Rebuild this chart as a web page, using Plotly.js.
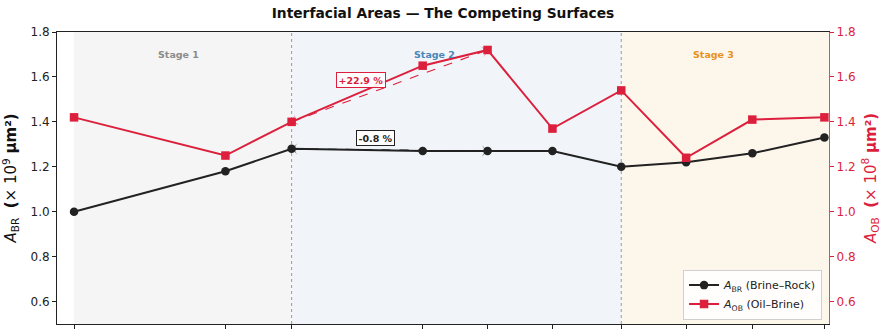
<!DOCTYPE html>
<html>
<head>
<meta charset="utf-8">
<script src="https://cdn.plot.ly/plotly-3.0.1.min.js"></script>
<style>
  html, body { margin: 0; padding: 0; background: #ffffff; }
  #chart { width: 883px; height: 331px; }
</style>
</head>
<body>
<div id="chart"></div>
<script>
// Sampling steps along the flooding sequence
const stepX = [0, 2.31, 3.32, 5.32, 6.31, 7.30, 8.35, 9.34, 10.35, 11.45];
// Brine–rock interfacial area (×10^9 µm²)
const areaBR = [1.00, 1.18, 1.28, 1.27, 1.27, 1.27, 1.20, 1.22, 1.26, 1.33];
// Oil–brine interfacial area (×10^8 µm²)
const areaOB = [1.42, 1.25, 1.40, 1.65, 1.72, 1.37, 1.54, 1.24, 1.41, 1.42];

// Stage boundaries (indices into stepX) and labels
const stageNames = ['Stage 1', 'Stage 2', 'Stage 3'];
const stageStart = [0, 2, 6];
const stageColors = ['#f5f5f5', '#f1f5f9', '#fdf6ea'];
const stageTextColors = ['#8c8c8c', '#4a86b8', '#e8921e'];

// Change between sample 2 and sample 4 for each series
const cmpFrom = 2, cmpTo = 4;

const RED = '#dc1f3c';
const DARK = '#222222';
const FONT = 'DejaVu Sans, sans-serif';

const xMin = -0.26, xMax = 11.52;

const traces = [
  {
    x: stepX, y: areaBR, type: 'scatter', mode: 'lines+markers',
    name: '<i>A</i><sub>BR</sub> (Brine–Rock)',
    line: {color: DARK, width: 2},
    marker: {color: DARK, size: 8.5, symbol: 'circle'},
    yaxis: 'y'
  },
  {
    x: stepX, y: areaOB, type: 'scatter', mode: 'lines+markers',
    name: '<i>A</i><sub>OB</sub> (Oil–Brine)',
    line: {color: RED, width: 2},
    marker: {color: RED, size: 8.5, symbol: 'square'},
    yaxis: 'y2'
  }
];

const shapes = [];
const annotations = [];

// Stage shading and dotted separators
stageStart.forEach((s, i) => {
  const x0 = stepX[s];
  const x1 = i + 1 < stageStart.length ? stepX[stageStart[i + 1]] : xMax;
  shapes.push({
    type: 'rect', xref: 'x', yref: 'paper', x0: x0, x1: x1, y0: 0, y1: 1,
    fillcolor: stageColors[i], line: {width: 0}, layer: 'below'
  });
  if (i > 0) {
    shapes.push({
      type: 'line', xref: 'x', yref: 'paper', x0: x0, x1: x0, y0: 0, y1: 1,
      line: {color: '#9a9a9a', width: 1, dash: 'dot'}, layer: 'below'
    });
  }
});

const stageLabelX = [1.60, 5.50, 9.75];
stageNames.forEach((name, i) => {
  annotations.push({
    text: '<b>' + name + '</b>', xref: 'x', yref: 'paper',
    x: stageLabelX[i], y: 0.95, showarrow: false,
    font: {family: FONT, size: 9.5, color: stageTextColors[i]}
  });
});

// Double-headed dashed arrow with a percentage badge
function changeArrow(series, yaxisId, color, label, xshift, yshift) {
  const xa = stepX[cmpFrom], xb = stepX[cmpTo];
  const ya = series[cmpFrom], yb = series[cmpTo];
  traces.push({
    x: [xa, xb], y: [ya, yb], type: 'scatter', mode: 'lines',
    line: {color: color, width: 1.1, dash: 'dash'},
    yaxis: yaxisId, showlegend: false, hoverinfo: 'skip'
  });
  // arrowheads at both ends, each oriented from the opposite end
  [[xa, xb, ya, yb], [xb, xa, yb, ya]].forEach(([x0, x1, y0, y1]) => {
    traces.push({
      x: [x0, x1], y: [y0, y1], type: 'scatter', mode: 'markers',
      marker: {
        symbol: 'arrow-wide', size: [0, 8], color: color,
        angleref: 'previous', line: {width: 0}
      },
      yaxis: yaxisId, showlegend: false, hoverinfo: 'skip'
    });
  });
  annotations.push({
    x: (xa + xb) / 2, y: (ya + yb) / 2, xref: 'x', yref: yaxisId,
    xshift: xshift, yshift: yshift, showarrow: false,
    text: '<b>' + label + '</b>',
    font: {family: FONT, size: 9.5, color: color},
    bgcolor: 'rgba(255,255,255,0.9)', bordercolor: color,
    borderwidth: 1, borderpad: 1.5
  });
}

const pct = (s) => (s[cmpTo] - s[cmpFrom]) / s[cmpFrom] * 100;
const fmt = (v) => (v > 0 ? '+' : '') + v.toFixed(1) + ' %';
changeArrow(areaOB, 'y2', RED, fmt(pct(areaOB)), -29, 6);
changeArrow(areaBR, 'y', DARK, fmt(pct(areaBR)), -14, 12);

const layout = {
  width: 883, height: 331,
  margin: {l: 57, r: 54, t: 32, b: 7, pad: 0},
  paper_bgcolor: '#ffffff', plot_bgcolor: '#ffffff',
  font: {family: FONT, size: 12, color: DARK},
  title: {
    text: '<b>Interfacial Areas — The Competing Surfaces</b>',
    x: 0.5, xref: 'paper', y: 1 - 13 / 331, yref: 'container', yanchor: 'middle',
    font: {family: FONT, size: 13.8, color: '#111111'}
  },
  showlegend: true,
  legend: {
    x: 0.991, y: 0.015, xanchor: 'right', yanchor: 'bottom',
    bgcolor: 'rgba(255,255,255,0.85)', bordercolor: '#d0d0d0', borderwidth: 1,
    font: {family: FONT, size: 11, color: DARK},
    tracegroupgap: 0
  },
  xaxis: {
    range: [xMin, xMax], showgrid: false, zeroline: false,
    showline: true, mirror: true, linecolor: '#222222', linewidth: 1,
    ticks: 'outside', ticklen: 4, tickcolor: '#222222',
    tickvals: stepX, showticklabels: false
  },
  yaxis: {
    range: [0.5, 1.8], dtick: 0.2, tick0: 0.6, showgrid: false, zeroline: false,
    showline: true, linecolor: '#222222', linewidth: 1,
    ticks: 'outside', ticklen: 4, tickcolor: '#222222', tickformat: '.1f',
    tickfont: {family: FONT, size: 12, color: DARK},
    title: {
      text: '<i>A</i><sub>BR</sub>  <b>(</b>× 10<sup>9</sup> <b>μm²)</b>',
      font: {family: FONT, size: 15, color: '#111111'}, standoff: 10
    }
  },
  yaxis2: {
    range: [0.5, 1.8], dtick: 0.2, tick0: 0.6, overlaying: 'y', side: 'right',
    showgrid: false, zeroline: false,
    showline: true, linecolor: '#7a7a7a', linewidth: 1.2,
    ticks: 'outside', ticklen: 4, tickcolor: RED, tickformat: '.1f',
    tickfont: {family: FONT, size: 12, color: RED},
    title: {
      text: '<i>A</i><sub>OB</sub>  <b>(</b>× 10<sup>8</sup> <b>μm²)</b>',
      font: {family: FONT, size: 15, color: RED}, standoff: 10
    }
  },
  shapes: shapes,
  annotations: annotations
};

Plotly.newPlot('chart', traces, layout, {displayModeBar: false, staticPlot: true});
</script>
</body>
</html>
